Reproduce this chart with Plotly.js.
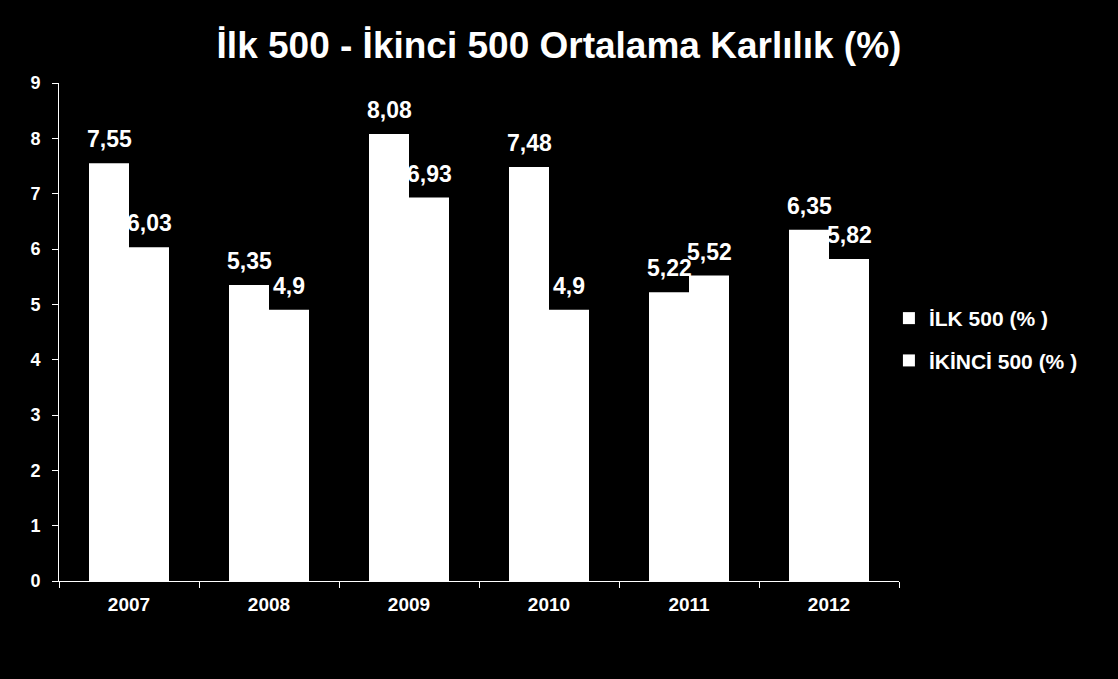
<!DOCTYPE html>
<html>
<head>
<meta charset="utf-8">
<script src="https://cdn.plot.ly/plotly-3.0.1.min.js"></script>
<style>html,body{margin:0;padding:0;background:#000;}#chart{width:1118px;height:679px;}</style>
</head>
<body>
<div id="chart"></div>
<script>
const years = ['2007', '2008', '2009', '2010', '2011', '2012'];
const ilk500 = [7.55, 5.35, 8.08, 7.48, 5.22, 6.35];
const ikinci500 = [6.03, 4.9, 6.93, 4.9, 5.52, 5.82];
const seriesNames = ['İLK 500 (% )', 'İKİNCİ 500 (% )'];
const titleText = 'İlk 500 - İkinci 500 Ortalama Karlılık (%)';

const FONT = '"Liberation Sans", Arial, sans-serif';
const fmt = v => String(v).replace('.', ',');

const traces = [
  {type: 'bar', x: years, y: ilk500, name: seriesNames[0], legendgroup: 'a',
   marker: {color: '#ffffff', line: {width: 0}}, hoverinfo: 'x+y'},
  {type: 'bar', x: years, y: ikinci500, name: seriesNames[1], legendgroup: 'b',
   marker: {color: '#ffffff', line: {width: 0}}, hoverinfo: 'x+y'}
];

// category index positions (numeric-looking year strings would be read as indices)
const annotations = [];
[[ilk500, -20], [ikinci500, 20]].forEach(([vals, shift]) => {
  vals.forEach((v, i) => {
    annotations.push({
      x: i, y: v, xref: 'x', yref: 'y', text: fmt(v), showarrow: false,
      xshift: shift, yshift: 9, yanchor: 'bottom', xanchor: 'center',
      font: {family: FONT, size: 23, color: '#ffffff', weight: 'bold'}
    });
  });
});

const layout = {
  width: 1118, height: 679,
  paper_bgcolor: '#000000', plot_bgcolor: '#000000',
  margin: {l: 59, r: 219, t: 83, b: 98},
  barmode: 'group', bargap: 3 / 7, bargroupgap: 0,
  title: {text: titleText, x: 0.5, xref: 'container', xanchor: 'center',
          y: 0.933, yref: 'container', yanchor: 'middle',
          font: {family: FONT, size: 37, color: '#ffffff', weight: 'bold'}},
  font: {family: FONT, color: '#ffffff'},
  xaxis: {
    type: 'category', range: [-0.5, years.length - 0.5], autorange: false,
    showline: true, linecolor: '#ffffff', linewidth: 1,
    ticks: 'outside', tickson: 'boundaries', ticklen: 6, tickcolor: '#ffffff',
    showgrid: false, zeroline: false, ticklabelstandoff: 6, tickangle: 0,
    tickfont: {family: FONT, size: 19, color: '#ffffff', weight: 'bold'}
  },
  yaxis: {
    range: [0, 9], autorange: false, dtick: 1, tick0: 0, showline: true, linecolor: '#ffffff', linewidth: 1,
    ticks: 'outside', ticklen: 6, tickcolor: '#ffffff', showgrid: false, zeroline: false,
    ticklabelstandoff: 8,
    tickfont: {family: FONT, size: 18, color: '#ffffff', weight: 'bold'}
  },
  legend: {
    x: 0.988, xref: 'paper', xanchor: 'left', y: 0.485, yanchor: 'middle',
    traceorder: 'grouped', tracegroupgap: 12, bgcolor: 'rgba(0,0,0,0)',
    font: {family: FONT, size: 21, color: '#ffffff', weight: 'bold'}
  },
  annotations: annotations,
  showlegend: true
};

Plotly.newPlot('chart', traces, layout, {displayModeBar: false, staticPlot: true});
</script>
</body>
</html>
